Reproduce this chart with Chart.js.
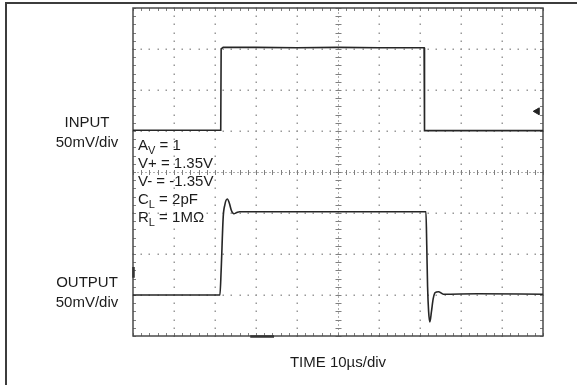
<!DOCTYPE html>
<html>
<head>
<meta charset="utf-8">
<script src="https://cdn.jsdelivr.net/npm/chart.js@4/dist/chart.umd.min.js"></script>
<style>
  html, body { margin: 0; padding: 0; background: #fff; }
  #wrap { position: relative; width: 577px; height: 385px; overflow: hidden; background: #fff; }
  #frame { position: absolute; left: 5px; top: 2px; width: 620px; height: 420px;
           border-left: 2px solid #3c3c3c; border-top: 2px solid #3c3c3c; }
  #c { position: absolute; left: 0; top: 0; }
</style>
</head>
<body>
<div id="wrap">
  <div id="frame"></div>
  <canvas id="c" width="577" height="385"></canvas>
</div>
<script>
// Scope settings: 10 µs/div horizontally, 50 mV/div vertically, 10 x 8 divisions
const timeTicks = [0, 10, 20, 30, 40, 50, 60, 70, 80, 90, 100];   // µs
const divTicks  = [-4, -3, -2, -1, 0, 1, 2, 3, 4];                 // divisions from centre
const mvPerDiv = 50;

// Channel ground positions (divisions from screen centre)
const inputGroundDiv = 1;
const outputGroundDiv = -3;

// Input step (µs, mV)
const inputTime = [0, 10, 21.4, 21.5, 22, 30, 40, 50, 60, 70, 71.0, 71.1, 80, 90, 100];
const inputMv   = [1, 1, 1, 100, 102, 102, 101.5, 102, 101.5, 101.5, 101.5, 0.5, 0.5, 0.5, 0.5];

// Output response (µs, mV)
const outputTime = [0, 10, 21.2, 21.5, 22.0, 22.4, 23.0, 23.5, 24.0, 24.6, 25.3, 26, 40, 50, 60,
                    71.45, 71.65, 71.85, 72.1, 72.4, 72.8, 73.2, 73.7, 74.5, 75.7, 84, 100];
const outputMv   = [0, 0, 0, 30, 95, 110, 117, 112, 103, 99, 100.5, 101.5, 101.5, 101.5, 101.5,
                    101.5, 60, 10, -20, -33, -20, -5, 3, 4, 1, 1.5, 1];

// Trigger level marker on the input channel
const triggerTime = [98.6];
const triggerDiv  = [1.48];

const toPoints = (t, mv, ground) => t.map((x, i) => ({ x: x, y: ground + mv[i] / mvPerDiv }));

const FONT = '"Liberation Sans", Arial, Helvetica, sans-serif';
const INK = '#1c1c1c';

// Graticule: dotted division lines, tick-marked centre cross, ticked border
const graticule = {
  id: 'graticule',
  beforeDatasetsDraw(chart) {
    const { ctx, chartArea: a, scales: { x, y } } = chart;
    const xMinor = [], yMinor = [];
    for (let i = 0; i <= 50; i++) xMinor.push(timeTicks[0] + i * 2);
    for (let j = 0; j <= 40; j++) yMinor.push(divTicks[0] + j * 0.2);
    ctx.save();

    // dotted division lines
    ctx.fillStyle = '#999';
    timeTicks.forEach((t, i) => {
      if (i === 0 || i === timeTicks.length - 1 || t === 50) return;
      const px = Math.round(x.getPixelForValue(t));
      yMinor.forEach(v => ctx.fillRect(px - 0.5, Math.round(y.getPixelForValue(v)) - 0.5, 1.5, 1.5));
    });
    divTicks.forEach((d, j) => {
      if (j === 0 || j === divTicks.length - 1 || d === 0) return;
      const py = Math.round(y.getPixelForValue(d));
      xMinor.forEach(t => ctx.fillRect(Math.round(x.getPixelForValue(t)) - 0.5, py - 0.5, 1.5, 1.5));
    });

    // centre cross with minor ticks
    const cx = Math.round(x.getPixelForValue(50)) + 0.5;
    const cy = Math.round(y.getPixelForValue(0)) + 0.5;
    ctx.strokeStyle = '#b0b0b0';
    ctx.lineWidth = 1;
    ctx.setLineDash([2, 2]);
    ctx.beginPath();
    ctx.moveTo(a.left, cy); ctx.lineTo(a.right, cy);
    ctx.moveTo(cx, a.top); ctx.lineTo(cx, a.bottom);
    ctx.stroke();
    ctx.setLineDash([]);
    ctx.strokeStyle = '#808080';
    ctx.beginPath();
    xMinor.forEach(t => {
      const px = Math.round(x.getPixelForValue(t)) + 0.5;
      ctx.moveTo(px, cy - 2.5); ctx.lineTo(px, cy + 2.5);
    });
    yMinor.forEach(v => {
      const py = Math.round(y.getPixelForValue(v)) + 0.5;
      ctx.moveTo(cx - 3, py); ctx.lineTo(cx + 3, py);
    });
    ctx.stroke();

    // border ticks
    ctx.strokeStyle = '#808080';
    ctx.beginPath();
    xMinor.forEach(t => {
      const px = Math.round(x.getPixelForValue(t)) + 0.5;
      ctx.moveTo(px, a.top); ctx.lineTo(px, a.top + 3);
      ctx.moveTo(px, a.bottom); ctx.lineTo(px, a.bottom - 3);
    });
    yMinor.forEach(v => {
      const py = Math.round(y.getPixelForValue(v)) + 0.5;
      ctx.moveTo(a.left, py); ctx.lineTo(a.left + 3, py);
      ctx.moveTo(a.right, py); ctx.lineTo(a.right - 3, py);
    });
    ctx.stroke();

    // screen border
    ctx.strokeStyle = '#4a4a4a';
    ctx.lineWidth = 1.5;
    ctx.strokeRect(a.left, a.top, a.right - a.left, a.bottom - a.top);

    // trigger position and ground reference marks on the border
    ctx.strokeStyle = '#333';
    ctx.lineWidth = 2.5;
    ctx.beginPath();
    ctx.moveTo(x.getPixelForValue(28.6), a.bottom + 0.5);
    ctx.lineTo(x.getPixelForValue(34.4), a.bottom + 0.5);
    ctx.moveTo(a.left + 0.5, y.getPixelForValue(-2.32));
    ctx.lineTo(a.left + 0.5, y.getPixelForValue(-2.58));
    ctx.stroke();
    ctx.restore();
  },
  afterDraw(chart) {
    const { ctx, chartArea: a, scales: { x, y } } = chart;
    ctx.save();
    ctx.fillStyle = INK;
    ctx.textBaseline = 'alphabetic';

    // channel labels
    ctx.font = '15px ' + FONT;
    ctx.textAlign = 'center';
    const lx = a.left - 46;
    const gIn = y.getPixelForValue(inputGroundDiv);
    const gOut = y.getPixelForValue(outputGroundDiv);
    ctx.fillText('INPUT', lx, gIn - 4.5);
    ctx.fillText('50mV/div', lx, gIn + 16);
    ctx.fillText('OUTPUT', lx, gOut - 8.5);
    ctx.fillText('50mV/div', lx, gOut + 11.5);

    // time base
    ctx.fillText('TIME 10\u00B5s/div', x.getPixelForValue(50), a.bottom + 30.5);

    // test conditions
    ctx.textAlign = 'left';
    const tx = a.left + 5;
    const rows = [
      ['A', 'V', ' = 1'],
      ['V+ = 1.35V', '', ''],
      ['V- = -1.35V', '', ''],
      ['C', 'L', ' = 2pF'],
      ['R', 'L', ' = 1M\u03A9']
    ];
    rows.forEach((r, i) => {
      const by = a.top + 142 + i * 18;
      ctx.font = '15px ' + FONT;
      ctx.fillText(r[0], tx, by);
      let cx = tx + ctx.measureText(r[0]).width;
      if (r[1]) {
        ctx.font = '11px ' + FONT;
        ctx.fillText(r[1], cx, by + 4);
        cx += ctx.measureText(r[1]).width;
      }
      if (r[2]) {
        ctx.font = '15px ' + FONT;
        ctx.fillText(r[2], cx, by);
      }
    });
    ctx.restore();
  }
};

new Chart(document.getElementById('c'), {
  type: 'line',
  data: {
    datasets: [
      {
        label: 'INPUT',
        data: toPoints(inputTime, inputMv, inputGroundDiv),
        borderColor: '#262626',
        borderWidth: 1.6,
        pointRadius: 0,
        tension: 0,
        fill: false
      },
      {
        label: 'OUTPUT',
        data: toPoints(outputTime, outputMv, outputGroundDiv),
        borderColor: '#262626',
        borderWidth: 1.6,
        pointRadius: 0,
        cubicInterpolationMode: 'monotone',
        fill: false
      },
      {
        label: 'Trigger',
        data: triggerTime.map((t, i) => ({ x: t, y: triggerDiv[i] })),
        showLine: false,
        pointStyle: 'triangle',
        rotation: -90,
        pointRadius: 4,
        backgroundColor: '#222',
        borderColor: '#222',
        borderWidth: 1
      }
    ]
  },
  options: {
    responsive: false,
    animation: false,
    layout: { padding: { left: 133, top: 8, right: 34, bottom: 49 } },
    plugins: { legend: { display: false }, tooltip: { enabled: false } },
    scales: {
      x: { type: 'linear', display: false, min: timeTicks[0], max: timeTicks[timeTicks.length - 1] },
      y: { type: 'linear', display: false, min: divTicks[0], max: divTicks[divTicks.length - 1] }
    }
  },
  plugins: [graticule]
});
</script>
</body>
</html>
